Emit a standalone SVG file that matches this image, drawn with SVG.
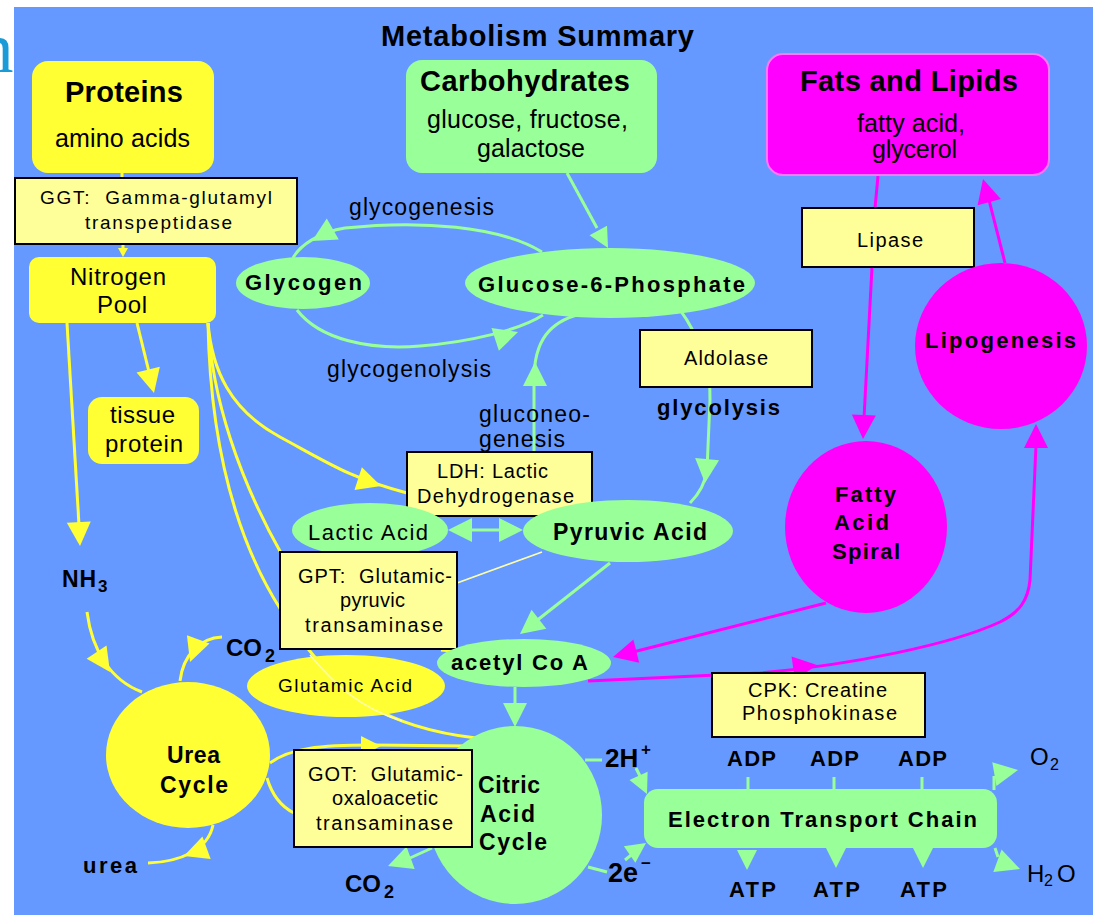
<svg xmlns="http://www.w3.org/2000/svg" xmlns:xlink="http://www.w3.org/1999/xlink" width="1093" height="915" viewBox="0 0 1093 915">
<style>
.t{font-family:"Liberation Sans",Arial,sans-serif;fill:#000}
.b{font-weight:bold}
.fy{fill:#ffff33}
.fg{fill:#99ff99}
.fm{fill:#ff00ff}
.lbl{fill:#ffff99;stroke:#000;stroke-width:2}
.ly{fill:none;stroke:#ffff33;stroke-width:3}
.lg{fill:none;stroke:#99ff99;stroke-width:3}
.lm{fill:none;stroke:#ff00ff;stroke-width:3}
</style>
<defs>
<path id="ah" d="M0,0 L-24,-12 L-24,12 Z"/>
<path id="ahm" d="M0,0 L-20,-10 L-20,10 Z"/>
<path id="ahs" d="M0,0 L-9,-5 L-9,5 Z"/>
</defs>
<rect x="0" y="0" width="1093" height="915" fill="#ffffff"/>
<text x="-22" y="72" font-family="Liberation Serif,serif" font-size="71" fill="#1a9ad6">n</text>
<rect x="14" y="7" width="1079" height="908" fill="#6699ff"/>

<g id="connectors">
  <!-- yellow -->
  <path class="ly" d="M122 173 L122 178 M123 244 L123 250"/>
  <use href="#ahs" class="fy" transform="translate(123 257) rotate(90)"/>
  <path class="ly" d="M137 323 L149 372"/>
  <use href="#ah" class="fy" transform="translate(154 393) rotate(76)"/>
  <path class="ly" d="M67 323 L79 525"/>
  <use href="#ah" class="fy" transform="translate(80 546) rotate(87)"/>
  <path class="ly" d="M208 323 C212 370 230 410 280 437 S350 478 407 493"/>
  <use href="#ah" class="fy" transform="translate(381 486) rotate(18)"/>
  <path class="ly" d="M208 323 C212 400 240 480 281 553"/>
  <path class="ly" d="M208 323 C210 430 230 530 281 610"/>
  <path class="ly" d="M305 645 C340 690 380 727 476 738"/>
  <path class="ly" d="M441 650 L453 651" stroke-width="2"/>
  <path class="ly" d="M87 612 C92 650 110 680 142 692"/>
  <use href="#ah" class="fy" transform="translate(110 672) rotate(56)"/>
  <path class="ly" d="M222 637 C200 638 183 655 180 681"/>
  <use href="#ah" class="fy" transform="translate(190 662) rotate(110)"/>
  <path class="ly" d="M213 825 C208 850 180 862 148 863"/>
  <use href="#ah" class="fy" transform="translate(184 856) rotate(160)"/>
  <path class="ly" d="M270 763 C290 748 320 745 372 745 L470 746"/>
  <use href="#ahm" class="fy" transform="translate(381 746) rotate(0)"/>
  <path class="ly" d="M267 778 C272 795 280 806 294 813"/>
  <!-- green -->
  <path class="lg" d="M567 173 L597 228"/>
  <use href="#ahm" class="fg" transform="translate(608 248) rotate(61)"/>
  <path class="lg" d="M542 252 C500 226 420 220 345 228 C320 232 300 245 293 258"/>
  <use href="#ah" class="fg" transform="translate(312 241) rotate(150)"/>
  <path class="lg" d="M297 310 C320 340 370 350 420 346 C470 342 520 330 543 315"/>
  <use href="#ah" class="fg" transform="translate(518 332) rotate(-18)"/>
  <path class="lg" d="M534 503 L534 380 C534 340 550 322 580 314"/>
  <use href="#ah" class="fg" transform="translate(535 362) rotate(-90)"/>
  <path class="lg" d="M672 300 C690 320 712 360 710 400 L707 470 C705 485 698 495 690 503"/>
  <use href="#ah" class="fg" transform="translate(705 483) rotate(95)"/>
  <path class="lg" d="M470 530 L500 530" stroke-width="4"/>
  <use href="#ah" class="fg" transform="translate(448 530) rotate(180)"/>
  <use href="#ah" class="fg" transform="translate(523 530) rotate(0)"/>
  <path d="M457 583 L542 552" fill="none" stroke="#ffffaa" stroke-width="1.5"/>
  <path class="lg" d="M610 563 L535 622"/>
  <use href="#ah" class="fg" transform="translate(520 634) rotate(142)"/>
  <path class="lg" d="M515 687 L515 705"/>
  <use href="#ah" class="fg" transform="translate(515 727) rotate(90)"/>
  <path class="lg" d="M585 760 L602 760" stroke-width="2"/>
  <path class="lg" d="M636 768 L642 780"/>
  <use href="#ahm" class="fg" transform="translate(647 794) rotate(65)"/>
  <path class="lg" d="M588 867 L607 872" stroke-width="2"/>
  <path class="lg" d="M625 860 L635 852"/>
  <use href="#ahm" class="fg" transform="translate(646 843) rotate(-35)"/>
  <path class="lg" d="M432 848 L410 858"/>
  <use href="#ah" class="fg" transform="translate(388 866) rotate(160)"/>
  <path class="lg" d="M748 777 L748 790 M834 777 L834 790 M922 777 L922 790" stroke-width="2"/>
  <use href="#ahm" class="fg" transform="translate(747 870) rotate(90)"/>
  <use href="#ahm" class="fg" transform="translate(836 868) rotate(90)"/>
  <use href="#ahm" class="fg" transform="translate(923 868) rotate(90)"/>
  <path class="lg" d="M994 790 L994 776"/>
  <use href="#ah" class="fg" transform="translate(1018 770) rotate(-10)"/>
  <path class="lg" d="M995 848 L998 857"/>
  <use href="#ah" class="fg" transform="translate(1020 869) rotate(20)"/>
  <!-- magenta -->
  <path class="lm" d="M878 176 L875 208"/>
  <path class="lm" d="M872 267 L864 418"/>
  <use href="#ah" class="fm" transform="translate(863 439) rotate(92)"/>
  <path class="lm" d="M1005 263 L989 200"/>
  <use href="#ah" class="fm" transform="translate(983 179) rotate(-105)"/>
  <path class="lm" d="M826 603 L633 652"/>
  <use href="#ah" class="fm" transform="translate(613 657) rotate(166)"/>
  <path class="lm" d="M588 681 L760 673 C850 665 950 645 1000 622 C1020 612 1028 600 1030 580 L1036 445"/>
  <use href="#ah" class="fm" transform="translate(817 665) rotate(-8)"/>
  <use href="#ah" class="fm" transform="translate(1036 424) rotate(-90)"/>
</g>

<text class="t b" x="381" y="46" font-size="29" textLength="313">Metabolism Summary</text>

<g id="proteins">
  <rect class="fy" x="32" y="61" width="182" height="112" rx="16"/>
  <text class="t b" x="65" y="102" font-size="29" textLength="118">Proteins</text>
  <text class="t" x="55" y="147" font-size="25" textLength="135">amino acids</text>
</g>
<g id="ggt">
  <rect class="lbl" x="15" y="178" width="282" height="66"/>
  <text class="t" x="40" y="204" font-size="19" textLength="232">GGT:&#160; Gamma-glutamyl</text>
  <text class="t" x="85" y="229" font-size="19" textLength="147">transpeptidase</text>
</g>
<g id="nitrogen-pool">
  <rect class="fy" x="29" y="257" width="187" height="66" rx="10"/>
  <text class="t" x="70" y="285" font-size="24" textLength="96">Nitrogen</text>
  <text class="t" x="97" y="313" font-size="24" textLength="50">Pool</text>
</g>
<g id="tissue-protein">
  <rect class="fy" x="88" y="397" width="111" height="67" rx="14"/>
  <text class="t" x="110" y="423" font-size="24" textLength="65">tissue</text>
  <text class="t" x="105" y="452" font-size="24" textLength="78">protein</text>
</g>
<g id="nh3">
  <text class="t b" x="62" y="587" font-size="23" textLength="34">NH</text>
  <text class="t b" x="98" y="592" font-size="17">3</text>
</g>
<g id="carbohydrates">
  <rect class="fg" x="406" y="60" width="251" height="113" rx="16"/>
  <text class="t b" x="420" y="91" font-size="29" textLength="210">Carbohydrates</text>
  <text class="t" x="427" y="128" font-size="25" textLength="201">glucose, fructose,</text>
  <text class="t" x="477" y="157" font-size="25" textLength="108">galactose</text>
</g>
<g id="fats">
  <rect class="fm" x="767" y="54" width="282" height="121" rx="16" stroke="#ff77ff" stroke-width="2"/>
  <text class="t b" x="800" y="91" font-size="29" textLength="218">Fats and Lipids</text>
  <text class="t" x="857" y="132" font-size="25" textLength="108">fatty acid,</text>
  <text class="t" x="872" y="158" font-size="25" textLength="85">glycerol</text>
</g>
<g id="lipase">
  <rect class="lbl" x="802" y="208" width="172" height="59"/>
  <text class="t" x="857" y="247" font-size="20" textLength="66">Lipase</text>
</g>
<g id="glycogenesis-label">
  <text class="t" x="349" y="215" font-size="23" textLength="145">glycogenesis</text>
</g>
<g id="glycogen">
  <ellipse class="fg" cx="303" cy="283" rx="67" ry="26"/>
  <text class="t b" x="245" y="290" font-size="22" textLength="117">Glycogen</text>
</g>
<g id="glucose-6-phosphate">
  <ellipse class="fg" cx="610" cy="283" rx="145" ry="35"/>
  <text class="t b" x="478" y="292" font-size="22" textLength="267">Glucose-6-Phosphate</text>
</g>
<g id="glycogenolysis-label">
  <text class="t" x="327" y="377" font-size="23" textLength="164">glycogenolysis</text>
</g>
<g id="aldolase">
  <rect class="lbl" x="640" y="330" width="172" height="57"/>
  <text class="t" x="684" y="365" font-size="20" textLength="84">Aldolase</text>
</g>
<g id="glycolysis-label">
  <text class="t b" x="657" y="415" font-size="22" textLength="123">glycolysis</text>
</g>
<g id="gluconeogenesis-label">
  <text class="t" x="479" y="422" font-size="23" textLength="111">gluconeo-</text>
  <text class="t" x="479" y="447" font-size="23" textLength="86">genesis</text>
</g>
<g id="ldh">
  <rect class="lbl" x="407" y="452" width="185" height="64"/>
  <text class="t" x="437" y="478" font-size="20" textLength="111">LDH: Lactic</text>
  <text class="t" x="417" y="503" font-size="20" textLength="157">Dehydrogenase</text>
</g>
<g id="lactic-acid">
  <ellipse class="fg" cx="370" cy="530" rx="78" ry="27"/>
  <text class="t" x="308" y="540" font-size="22" textLength="120">Lactic Acid</text>
</g>
<g id="pyruvic-acid">
  <ellipse class="fg" cx="628" cy="531" rx="105" ry="31"/>
  <text class="t b" x="553" y="540" font-size="23" textLength="154">Pyruvic Acid</text>
</g>
<g id="gpt">
  <rect class="lbl" x="280" y="552" width="177" height="97"/>
  <text class="t" x="298" y="583" font-size="20" textLength="154">GPT:&#160; Glutamic-</text>
  <text class="t" x="340" y="607" font-size="20" textLength="65">pyruvic</text>
  <text class="t" x="305" y="632" font-size="20" textLength="138">transaminase</text>
</g>
<g id="co2-top">
  <text class="t b" x="226" y="656" font-size="24">CO</text>
  <text class="t b" x="265" y="662" font-size="18">2</text>
</g>
<g id="glutamic-acid">
  <ellipse class="fy" cx="346" cy="686" rx="99" ry="31"/>
  <path d="M310 655 C335 685 360 708 402 721" fill="none" stroke="#ffffaa" stroke-width="1.5"/>
  <text class="t" x="278" y="692" font-size="19" textLength="134">Glutamic Acid</text>
</g>
<g id="acetyl-coa">
  <ellipse class="fg" cx="524" cy="663" rx="87" ry="24"/>
  <text class="t b" x="451" y="670" font-size="22" textLength="137">acetyl Co A</text>
</g>
<g id="urea-cycle">
  <ellipse class="fy" cx="188" cy="755" rx="82" ry="73"/>
  <text class="t b" x="167" y="763" font-size="23" textLength="53">Urea</text>
  <text class="t b" x="160" y="793" font-size="23" textLength="68">Cycle</text>
</g>
<g id="urea">
  <text class="t b" x="83" y="873" font-size="22" textLength="54">urea</text>
</g>
<g id="citric-acid-cycle">
  <ellipse class="fg" cx="515" cy="815" rx="87" ry="89"/>
  <text class="t b" x="478" y="793" font-size="23" textLength="62">Citric</text>
  <text class="t b" x="480" y="822" font-size="23" textLength="55">Acid</text>
  <text class="t b" x="479" y="850" font-size="23" textLength="68">Cycle</text>
</g>
<g id="got">
  <rect class="lbl" x="294" y="750" width="178" height="97"/>
  <text class="t" x="308" y="781" font-size="20" textLength="155">GOT:&#160; Glutamic-</text>
  <text class="t" x="332" y="805" font-size="20" textLength="106">oxaloacetic</text>
  <text class="t" x="316" y="830" font-size="20" textLength="137">transaminase</text>
</g>
<g id="co2-bottom">
  <text class="t b" x="345" y="892" font-size="24">CO</text>
  <text class="t b" x="384" y="898" font-size="18">2</text>
</g>
<g id="h-plus">
  <text class="t b" x="605" y="767" font-size="26">2H</text>
  <text class="t b" x="641" y="755" font-size="17">+</text>
</g>
<g id="e-minus">
  <text class="t b" x="608" y="882" font-size="27">2e</text>
  <text class="t b" x="641" y="869" font-size="17">−</text>
</g>
<g id="electron-transport-chain">
  <rect class="fg" x="644" y="789" width="353" height="59" rx="14"/>
  <text class="t b" x="668" y="827" font-size="22" textLength="309">Electron Transport Chain</text>
</g>
<g id="cpk">
  <rect class="lbl" x="712" y="673" width="213" height="64"/>
  <text class="t" x="748" y="697" font-size="20" textLength="139">CPK: Creatine</text>
  <text class="t" x="742" y="720" font-size="20" textLength="155">Phosphokinase</text>
</g>
<g id="adp">
  <text class="t b" x="727" y="766" font-size="22" textLength="49">ADP</text>
  <text class="t b" x="810" y="766" font-size="22" textLength="49">ADP</text>
  <text class="t b" x="898" y="766" font-size="22" textLength="49">ADP</text>
</g>
<g id="atp">
  <text class="t b" x="729" y="897" font-size="22" textLength="47">ATP</text>
  <text class="t b" x="813" y="897" font-size="22" textLength="47">ATP</text>
  <text class="t b" x="900" y="897" font-size="22" textLength="47">ATP</text>
</g>
<g id="o2">
  <text class="t" x="1030" y="765" font-size="24">O</text>
  <text class="t" x="1050" y="770" font-size="16">2</text>
</g>
<g id="h2o">
  <text class="t" x="1027" y="882" font-size="24">H</text>
  <text class="t" x="1044" y="886" font-size="16">2</text>
  <text class="t" x="1057" y="882" font-size="24">O</text>
</g>
<g id="fatty-acid-spiral">
  <ellipse class="fm" cx="866" cy="527" rx="81" ry="86"/>
  <text class="t b" x="835" y="502" font-size="22" textLength="61">Fatty</text>
  <text class="t b" x="834" y="530" font-size="22" textLength="55">Acid</text>
  <text class="t b" x="832" y="559" font-size="22" textLength="68">Spiral</text>
</g>
<g id="lipogenesis">
  <ellipse class="fm" cx="1001" cy="346" rx="86" ry="83"/>
  <text class="t b" x="925" y="348" font-size="22" textLength="151">Lipogenesis</text>
</g>
</svg>
